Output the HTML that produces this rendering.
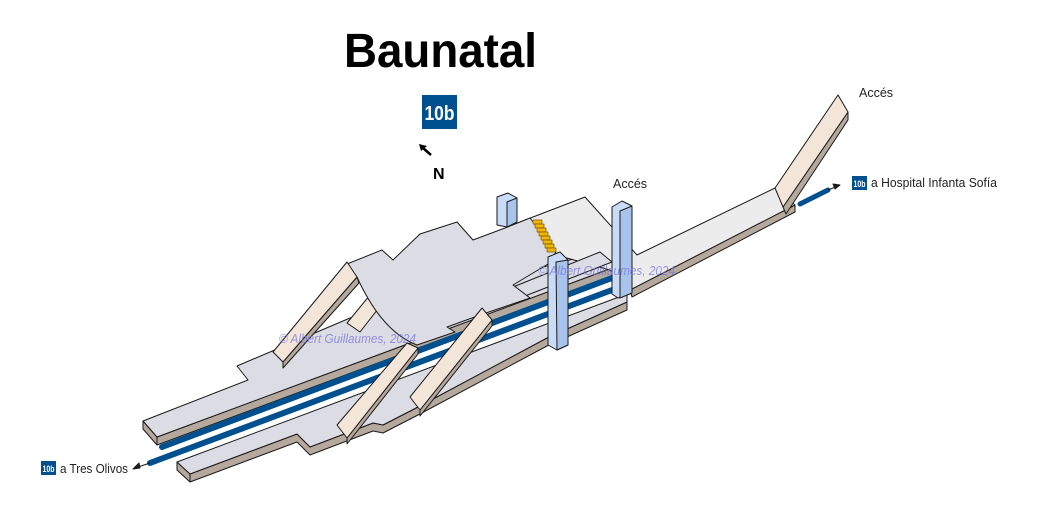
<!DOCTYPE html>
<html><head><meta charset="utf-8"><style>
html,body{margin:0;padding:0;background:#fff;}
svg{display:block;font-family:"Liberation Sans",sans-serif;}
</style></head><body>
<svg width="1041" height="525" viewBox="0 0 1041 525">
<g stroke="#1a1a1a" stroke-width="1" stroke-linejoin="round">
  <g>
    <polygon fill="#b5a89c" points="143,421 157,437 157,445 143,429"/>
    <polygon fill="#b5a89c" points="157,437 612,268 612,276 157,445"/>
    <polygon fill="#dcdce4" points="143,421 248,380 237,366 350,318 600,252 612,262 612,268 157,437"/>
  </g>
  <g>
    <polygon fill="#b5a89c" points="795,205 795,212 632,297 630,290"/>
    <polygon fill="#ececec" points="520,222 585,197 637,255 775,188 795,205 630,290 610,270 556,255"/>
  </g>
  <g>
    <polygon fill="#b5a89c" points="848,112 848,120 786,214 783,207"/>
    <polygon fill="#f3e5d8" points="775,188 838,95 848,112 783,207"/>
  </g>
  <g stroke="#00508f" stroke-linecap="round">
    <line x1="162" y1="447" x2="612" y2="278" stroke-width="6"/>
    <line x1="150" y1="463" x2="612" y2="290" stroke-width="6"/>
    <line x1="800" y1="204" x2="828" y2="190" stroke-width="5"/>
  </g>
  <line x1="150" y1="463" x2="135" y2="468" stroke-width="1"/>
  <polygon fill="#1a1a1a" points="133,469 139,463 140,468"/>
  <line x1="828" y1="190" x2="838" y2="186" stroke-width="1"/>
  <polygon fill="#1a1a1a" points="840,185 833,184 835,189"/>
  <g>
    <polygon fill="#b5a89c" points="177,462 190,474 190,482 177,470"/>
    <polygon fill="#b5a89c" points="190,474 297,434 310,447 373,423 383,425 418,407 547,338 627,302 627,310 547,346 418,415 383,433 373,431 310,455 297,442 190,482"/>
    <polygon fill="#dcdce4" points="177,462 627,294 627,302 547,338 418,407 383,425 373,423 310,447 297,434 190,474"/>
    <polygon fill="#dcdce4" points="513,287 600,252 612,262 525,296"/>
  </g>
  <polygon fill="#f3e5d8" points="347,323 420,234 428,245 360,332"/>
  <g>
    <path fill="#dcdce4" d="M347,264 L382,250 L393,260 L420,234 L457,222 L473,240 L505,228 L530,218 L556,252 L548,264 L513,285 L530,298 L483,314 L447,327 L455,332 L417,345 Q382,332 357,277 Z"/>
  </g>
  <g>
    <polygon fill="#b5a89c" points="357,277 283,362 283,368 359,283"/>
    <polygon fill="#f3e5d8" points="347,262 357,277 283,362 273,352"/>
  </g>
  <g>
    <polygon fill="#b5a89c" points="492,320 420,410 420,416 492,326"/>
    <polygon fill="#f3e5d8" points="482,308 492,320 420,410 410,397"/>
  </g>
  <g>
    <polygon fill="#b5a89c" points="418,348 347,438 347,444 418,354"/>
    <polygon fill="#f3e5d8" points="407,343 418,348 347,438 337,425"/>
  </g>
  <g fill="#f2b600" stroke="#7a5a00" stroke-width="0.7">
    <rect x="533" y="220" width="9" height="4"/><rect x="535" y="224" width="9" height="4"/>
    <rect x="537" y="228" width="9" height="4"/><rect x="539" y="232" width="9" height="4"/>
    <rect x="541" y="236" width="9" height="4"/><rect x="543" y="240" width="9" height="4"/>
    <rect x="545" y="244" width="9" height="4"/><rect x="547" y="248" width="9" height="4"/>
  </g>
  <g>
    <polygon fill="#c8dcf8" points="497,197 508,193 517,198 517,222 507,227 497,225"/>
    <polygon fill="#a9c4ec" points="507,202 517,198 517,222 507,227"/>
  </g>
  <g>
    <polygon fill="#c8dcf8" points="548,257 560,252 568,260 568,345 557,350 548,345"/>
    <polygon fill="#a9c4ec" points="556,262 568,260 568,345 557,350"/>
  </g>
  <g>
    <polygon fill="#c8dcf8" points="612,207 622,201 632,206 632,293 618,298 612,294"/>
    <polygon fill="#a9c4ec" points="620,211 632,206 632,293 620,298"/>
  </g>
</g>
<g font-style="italic" fill="#7777dd" fill-opacity="0.75" font-size="13">
  <text x="279" y="343" textLength="137" lengthAdjust="spacingAndGlyphs">© Albert Guillaumes, 2024</text>
  <text x="538" y="275" textLength="137" lengthAdjust="spacingAndGlyphs">© Albert Guillaumes, 2024</text>
</g>
<text x="344" y="67" font-size="48" font-weight="bold" textLength="193" lengthAdjust="spacingAndGlyphs">Baunatal</text>
<g>
  <rect x="422" y="95" width="35" height="34" fill="#00508f"/>
  <text x="439.5" y="120" font-size="20" font-weight="bold" fill="#fff" text-anchor="middle" textLength="30" lengthAdjust="spacingAndGlyphs">10b</text>
</g>
<g>
  <line x1="431" y1="155" x2="423" y2="148" stroke="#000" stroke-width="2.5"/>
  <polygon points="419,144 427,146 421,151" fill="#000"/>
  <text x="433" y="179" font-size="16" font-weight="bold">N</text>
</g>
<text x="859" y="97" font-size="12.5" fill="#222">Accés</text>
<text x="613" y="188" font-size="12.5" fill="#222">Accés</text>
<g>
  <rect x="852" y="176" width="15" height="14" fill="#00508f"/>
  <text x="859.5" y="187" font-size="9" font-weight="bold" fill="#fff" text-anchor="middle" textLength="12" lengthAdjust="spacingAndGlyphs">10b</text>
  <text x="871" y="187" font-size="12.5" fill="#222" textLength="126" lengthAdjust="spacingAndGlyphs">a Hospital Infanta Sofía</text>
</g>
<g>
  <rect x="41" y="461" width="15" height="14" fill="#00508f"/>
  <text x="48.5" y="472" font-size="9" font-weight="bold" fill="#fff" text-anchor="middle" textLength="12" lengthAdjust="spacingAndGlyphs">10b</text>
  <text x="60" y="473" font-size="12.5" fill="#222" textLength="68" lengthAdjust="spacingAndGlyphs">a Tres Olivos</text>
</g>
</svg>
</body></html>
